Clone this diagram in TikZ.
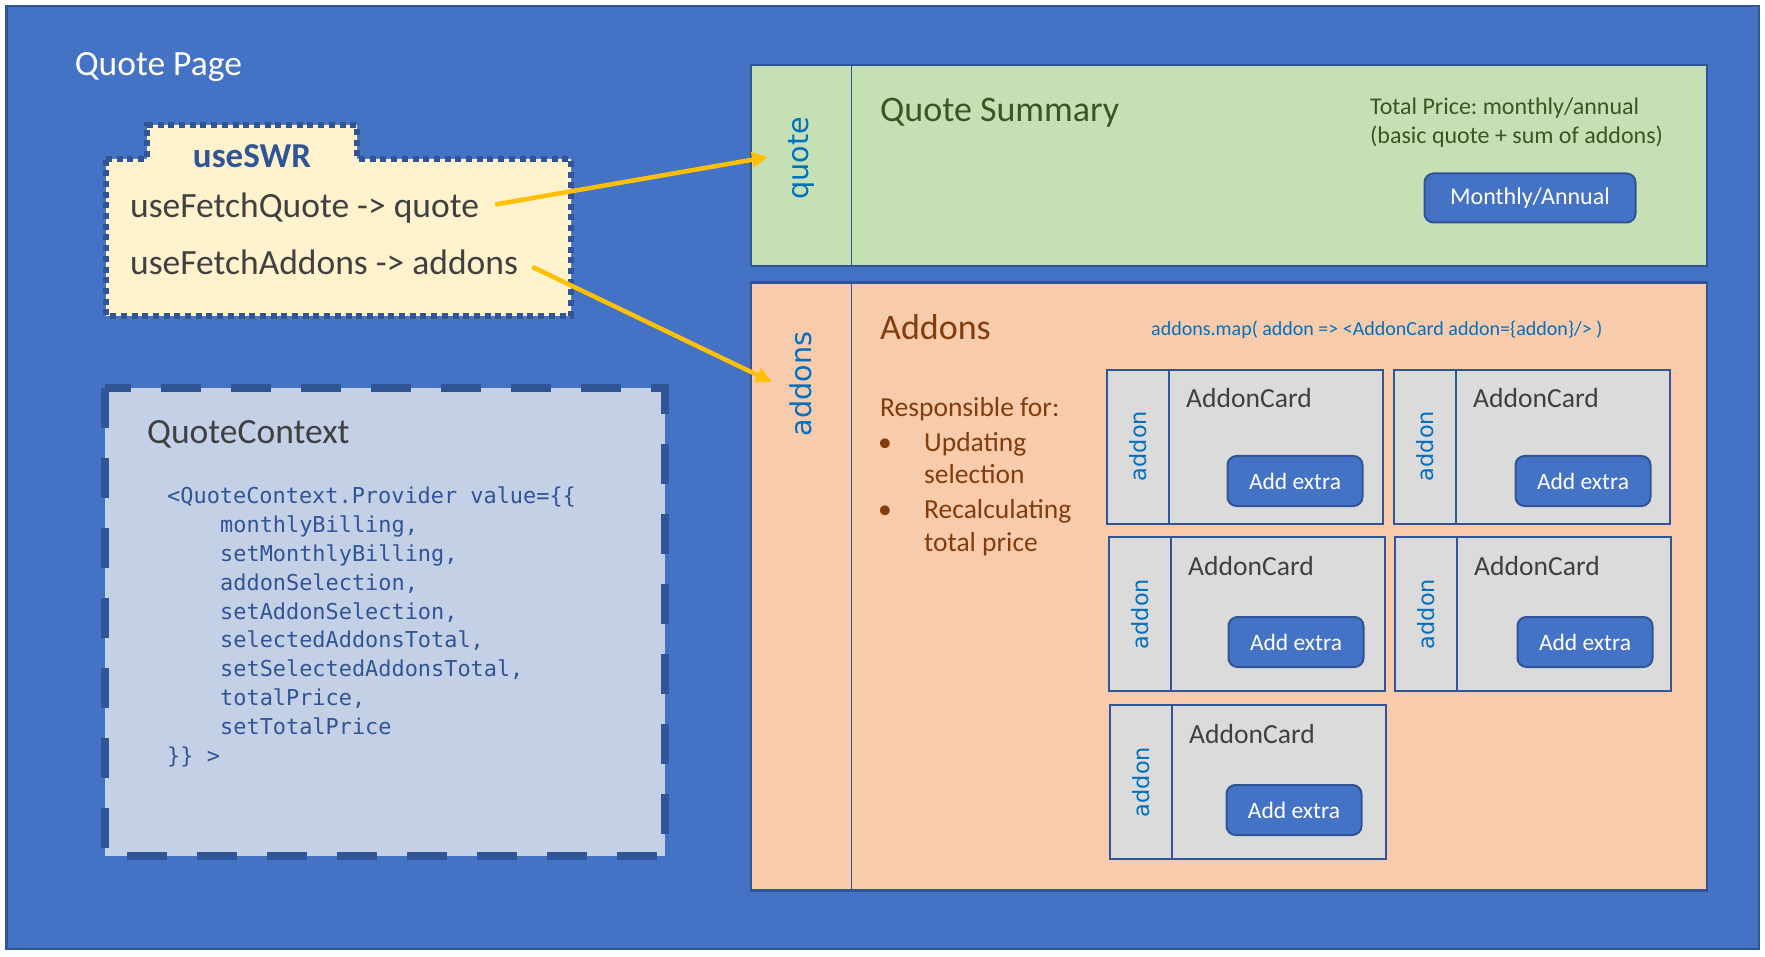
\documentclass[tikz,border=0pt]{standalone}
\usepackage{fontspec}
\setmainfont{Carlito}
\newfontfamily\vertfont{DejaVu Sans}
\newfontfamily\codefont{DejaVu Sans Mono}
\usetikzlibrary{arrows.meta}
\definecolor{pageblue}{HTML}{4472C4}
\definecolor{edgeblue}{HTML}{2F5597}
\definecolor{hookfill}{HTML}{FFF2CC}
\definecolor{ctxfill}{RGB}{196,208,230}
\definecolor{sumfill}{HTML}{C5E0B4}
\definecolor{addfill}{HTML}{F8CBAD}
\definecolor{cardfill}{HTML}{DBDBDB}
\definecolor{vertblue}{HTML}{0070C0}
\definecolor{addbrown}{HTML}{843C0C}
\definecolor{sumgreen}{HTML}{385723}
\definecolor{textgray}{HTML}{404040}
\definecolor{feedyellow}{HTML}{FFC000}
\frenchspacing

\begin{document}
\begin{tikzpicture}[x=1pt,y=-1pt,
    txt/.style={inner sep=0pt,anchor=base west},
    title/.style={txt,font=\fontsize{35.5}{42}\selectfont},
    codeline/.style={txt,text=edgeblue,font=\codefont\fontsize{21.9}{29}\selectfont},
    brownline/.style={txt,text=addbrown,font=\fontsize{27.5}{33}\selectfont},
    vlabel/.style={inner sep=0pt,rotate=90,text=vertblue,font=\vertfont\fontsize{28.7}{34}\selectfont},
    cardlabel/.style={vlabel,font=\vertfont\fontsize{22.4}{27}\selectfont},
    cardtitle/.style={txt,text=textgray,font=\fontsize{27.6}{33}\selectfont},
    panel/.style={draw=edgeblue,line width=2.5pt},
    divider/.style={draw=edgeblue,line width=1.6pt},
    button/.style={draw=edgeblue,line width=2pt,fill=pageblue,rounded corners=9pt,
        text=white,inner sep=0pt,font=\fontsize{23.5}{28}\selectfont},
    feed/.style={feedyellow,line width=4.5pt,-{Triangle[length=16pt,width=15pt]}}]
    \useasboundingbox (0,0) rectangle (1765,957);
    \draw [fill=pageblue,draw=edgeblue,line width=2.5pt] (6.5,6) rectangle (1759,949);
    \node[title,text=white] (page) at (74.6,76) {Quote Page};

% hooks
    \draw [draw=edgeblue,line width=6pt,dash pattern=on 6pt off 4.7pt,fill=hookfill]
        (106,159) -- (147,159) -- (147,125) -- (357,125) -- (357,159) -- (571,159)
        -- (571,316) -- (106,316) -- cycle;
    \node[anchor=base,inner sep=0pt,text=edgeblue,font=\bfseries\fontsize{35}{42}\selectfont] (swr) at (252,168) {useSWR};
    \node[title,text=textgray] (fetchquote) at (130,218) {useFetchQuote -> quote};
    \node[title,text=textgray] (fetchaddons) at (130,275) {useFetchAddons -> addons};

% context
    \draw [draw=edgeblue,line width=8pt,dash pattern=on 40pt off 30pt,fill=ctxfill] (105,388) rectangle (665,856);
    \node[title,text=textgray] (ctx) at (147,443) {QuoteContext};
    \node[codeline] (code1) at (167,503) {<QuoteContext.Provider value=\{\{};
    \node[codeline] (code2) at (220,532) {monthlyBilling,};
    \node[codeline] (code3) at (220,561) {setMonthlyBilling,};
    \node[codeline] (code4) at (220,590) {addonSelection,};
    \node[codeline] (code5) at (220,619) {setAddonSelection,};
    \node[codeline] (code6) at (220,647.5) {selectedAddonsTotal,};
    \node[codeline] (code7) at (220,676) {setSelectedAddonsTotal,};
    \node[codeline] (code8) at (220,705) {totalPrice,};
    \node[codeline] (code9) at (220,734) {setTotalPrice};
    \node[codeline] (code10) at (167,763) {\}\} >};

% quote summary
    \draw [panel,fill=sumfill] (751,65) rectangle (1707,266);
    \draw [divider] (851.5,65) -- (851.5,266);
    \node[vlabel] (quotelbl) at (801,158.5) {quote};
    \node[title,text=sumgreen,font=\fontsize{36}{43}\selectfont] (sumtitle) at (880,121.7) {Quote Summary};
    \node[txt,text=sumgreen,font=\fontsize{24}{29}\selectfont] (total1) at (1370,115) {Total Price: monthly/annual};
    \node[txt,text=sumgreen,font=\fontsize{24}{29}\selectfont] (total2) at (1370,143.3) {(basic quote + sum of addons)};
    \node[button,font=\fontsize{24}{29}\selectfont,minimum width=211pt,minimum height=49pt] (billing) at (1530,198) {Monthly/Annual};

% addons
    \draw [panel,fill=addfill] (751,282.3) rectangle (1707,890.7);
    \draw [divider] (851.5,282.3) -- (851.5,890.7);
    \node[vlabel] (addonslbl) at (801,384) {addons};
    \node[title,text=addbrown,font=\fontsize{36}{43}\selectfont] (addtitle) at (880,339.3) {Addons};
    \node[txt,text=vertblue,font=\fontsize{20}{24}\selectfont] (mapline) at (1151,336) {addons.map( addon => <AddonCard addon=\{addon\}/> )};
    \node[brownline] (resp) at (880,416.7) {Responsible for:};
    \node[brownline] (dot1) at (878,451.7) {•};
    \node[brownline] (item1a) at (924,451.7) {Updating};
    \node[brownline] (item1b) at (924,483.3) {selection};
    \node[brownline] (dot2) at (878,518.3) {•};
    \node[brownline] (item2a) at (924,518.3) {Recalculating};
    \node[brownline] (item2b) at (924,551.7) {total price};

% cards
    \draw [panel,fill=cardfill] (1107,370) rectangle (1383,524);
    \draw [divider] (1169,370) -- (1169,524);
    \node[cardlabel] (lbl1) at (1138,446) {addon};
    \node[cardtitle] (card1) at (1186,408) {AddonCard};
    \node[button,minimum width=135pt,minimum height=50pt] (extra1) at (1295,481) {Add extra};

    \draw [panel,fill=cardfill] (1394,370) rectangle (1670,524);
    \draw [divider] (1456,370) -- (1456,524);
    \node[cardlabel] (lbl2) at (1425,446) {addon};
    \node[cardtitle] (card2) at (1473,408) {AddonCard};
    \node[button,minimum width=135pt,minimum height=50pt] (extra2) at (1583,481) {Add extra};

    \draw [panel,fill=cardfill] (1109,537) rectangle (1385,691);
    \draw [divider] (1171,537) -- (1171,691);
    \node[cardlabel] (lbl3) at (1140,614) {addon};
    \node[cardtitle] (card3) at (1188,575) {AddonCard};
    \node[button,minimum width=135pt,minimum height=50pt] (extra3) at (1296,642) {Add extra};

    \draw [panel,fill=cardfill] (1395,537) rectangle (1671,691);
    \draw [divider] (1457,537) -- (1457,691);
    \node[cardlabel] (lbl4) at (1426,614) {addon};
    \node[cardtitle] (card4) at (1474,575) {AddonCard};
    \node[button,minimum width=135pt,minimum height=50pt] (extra4) at (1585,642) {Add extra};

    \draw [panel,fill=cardfill] (1110,705) rectangle (1386,859);
    \draw [divider] (1172,705) -- (1172,859);
    \node[cardlabel] (lbl5) at (1141,782) {addon};
    \node[cardtitle] (card5) at (1189,743) {AddonCard};
    \node[button,minimum width=135pt,minimum height=50pt] (extra5) at (1294,810) {Add extra};

% data flow
    \coordinate (quotein) at (768,157);
    \coordinate (addonsin) at (772,382);
    \draw [feed] ([xshift=16pt,yshift=4pt]fetchquote.east) -- (quotein);
    \draw [feed] ([xshift=14pt,yshift=-4pt]fetchaddons.east) -- (addonsin);
\end{tikzpicture}
\end{document}
